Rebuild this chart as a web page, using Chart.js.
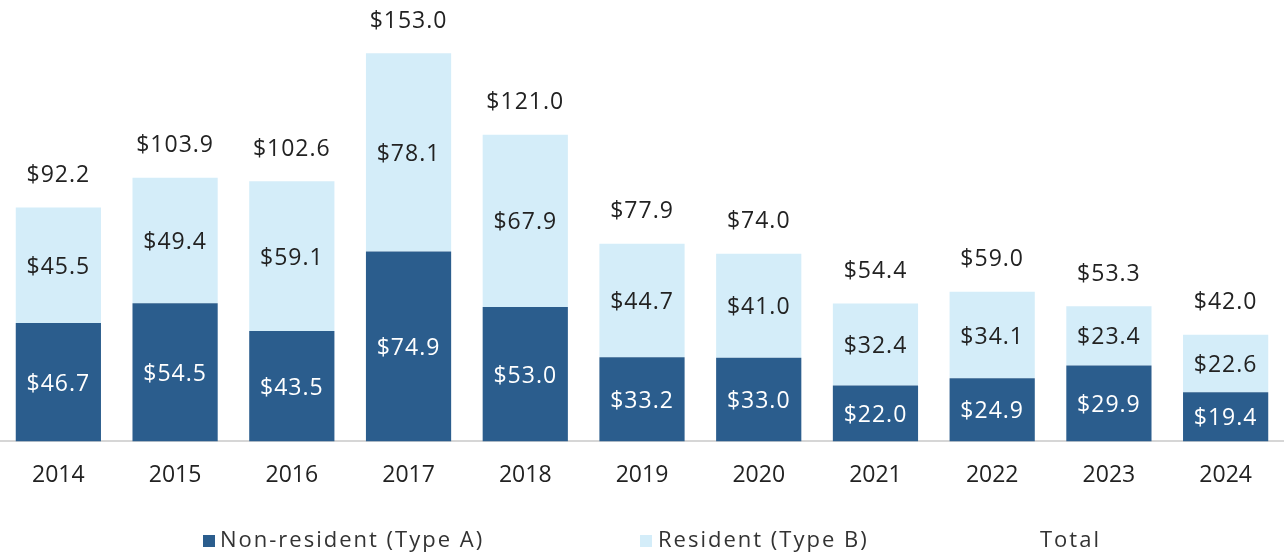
<!DOCTYPE html>
<html>
<head>
<meta charset="utf-8">
<script src="https://cdn.jsdelivr.net/npm/chart.js@4.4.1/dist/chart.umd.min.js"></script>
<style>
  html, body { margin: 0; padding: 0; background: #ffffff; }
  #wrap { position: relative; width: 1284px; height: 556px; }
</style>
</head>
<body>
<div id="wrap"><canvas id="c" width="1284" height="556"></canvas></div>
<script>
const years = ['2014','2015','2016','2017','2018','2019','2020','2021','2022','2023','2024'];
const nonResident = [46.7, 54.5, 43.5, 74.9, 53.0, 33.2, 33.0, 22.0, 24.9, 29.9, 19.4];
const resident = [45.5, 49.4, 59.1, 78.1, 67.9, 44.7, 41.0, 32.4, 34.1, 23.4, 22.6];
const totals = [92.2, 103.9, 102.6, 153.0, 121.0, 77.9, 74.0, 54.4, 59.0, 53.3, 42.0];
const seriesNames = ['Non-resident (Type A)', 'Resident (Type B)', 'Total'];

const DARK = '#2b5d8d';
const LIGHT = '#d4edf9';
const FONT = '"Open Sans", "DejaVu Sans", sans-serif';

const fmt = v => '$' + v.toFixed(1);

const labelPlugin = {
  id: 'valueLabels',
  afterDatasetsDraw(chart) {
    const ctx = chart.ctx;
    ctx.save();
    ctx.font = '23px ' + FONT;
    ctx.letterSpacing = '1px';
    ctx.textAlign = 'center';
    ctx.textBaseline = 'middle';
    chart.data.datasets.forEach((ds, di) => {
      const meta = chart.getDatasetMeta(di);
      meta.data.forEach((el, i) => {
        const v = ds.data[i];
        if (di === 2) {
          ctx.fillStyle = '#222222';
          ctx.fillText(fmt(v), el.x, el.y - 32);
        } else {
          ctx.fillStyle = di === 0 ? '#ffffff' : '#222222';
          ctx.fillText(fmt(v), el.x, (el.y + el.base) / 2 + 2);
        }
      });
    });
    ctx.restore();
  }
};

const legendPlugin = {
  id: 'customLegend',
  afterDraw(chart) {
    const ctx = chart.ctx;
    const y = 541;
    const items = [
      { swatch: DARK, x: 203, tx: 220, text: seriesNames[0] },
      { swatch: LIGHT, x: 640, tx: 658, text: seriesNames[1] },
      { swatch: null, x: 1022, tx: 1040, text: seriesNames[2] }
    ];
    ctx.save();
    ctx.font = '22px ' + FONT;
    ctx.letterSpacing = '2px';
    ctx.textBaseline = 'middle';
    ctx.textAlign = 'left';
    items.forEach(it => {
      if (it.swatch) {
        ctx.fillStyle = it.swatch;
        ctx.fillRect(it.x, y - 6, 12, 12);
      }
      ctx.fillStyle = '#333333';
      ctx.fillText(it.text, it.tx, y);
    });
    ctx.restore();
  }
};

new Chart(document.getElementById('c'), {
  type: 'bar',
  data: {
    labels: years,
    datasets: [
      { label: seriesNames[0], data: nonResident, backgroundColor: DARK, stack: 's', barPercentage: 0.73, categoryPercentage: 1.0, order: 2 },
      { label: seriesNames[1], data: resident, backgroundColor: LIGHT, stack: 's', barPercentage: 0.73, categoryPercentage: 1.0, order: 2 },
      { type: 'line', label: seriesNames[2], data: totals, showLine: false, pointRadius: 0, borderColor: 'rgba(0,0,0,0)', backgroundColor: 'rgba(0,0,0,0)', order: 1 }
    ]
  },
  options: {
    responsive: false,
    animation: false,
    layout: { padding: { top: 0, left: 0, right: 0, bottom: 47 } },
    plugins: { legend: { display: false }, tooltip: { enabled: false } },
    scales: {
      x: {
        stacked: true,
        grid: { display: false, drawTicks: false },
        border: { display: true, color: '#d6d6d6', width: 2 },
        ticks: { color: '#222222', padding: 20, font: { family: FONT, size: 23 } }
      },
      y: {
        stacked: true,
        display: false,
        min: 0,
        max: 174
      }
    }
  },
  plugins: [labelPlugin, legendPlugin]
});
</script>
</body>
</html>
